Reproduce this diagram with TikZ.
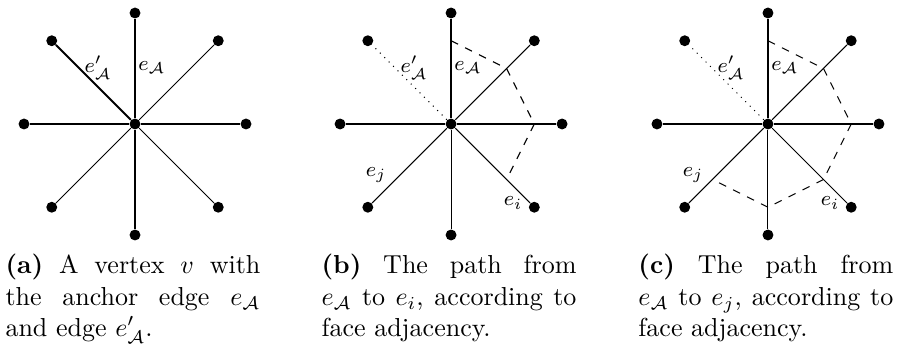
\documentclass[tikz,border=0pt]{standalone}
\usepackage{amsmath,amssymb}
\usepackage{tikz}

\begin{document}
\begin{tikzpicture}[x=0.375cm,y=0.375cm,
  dot/.style={circle,fill,inner sep=0pt,minimum size=4.2pt},
  anc/.style={thick},
  face/.style={dashed},
  lbl/.style={font=\footnotesize,inner sep=0pt},
  subcap/.style={text width=98pt,align=justify,inner sep=0pt,anchor=base west}]
\useasboundingbox (-4.865,-7.928) rectangle (27.46,4.468);
% the vertex v and its eight edges, in each panel
\foreach \p/\s in {a/0,b/11.39,c/22.81}{
  \begin{scope}[shift={(\s,0)}]
  \node[dot] (\p-v)  at (0,0)   {};
  \node[dot] (\p-n)  at (0,4)   {};
  \node[dot] (\p-ne) at (3,3)   {};
  \node[dot] (\p-e)  at (4,0)   {};
  \node[dot] (\p-se) at (3,-3)  {};
  \node[dot] (\p-s)  at (0,-4)  {};
  \node[dot] (\p-sw) at (-3,-3) {};
  \node[dot] (\p-w)  at (-4,0)  {};
  \node[dot] (\p-nw) at (-3,3)  {};
  \foreach \d in {ne,e,se,s,sw,w} \draw (\p-v) -- (\p-\d);
  \draw[anc] (\p-v) -- (\p-n);
  \node[lbl] (\p-ea)  at (0.61,2.03)  {$e_{\mathcal{A}}$};
  \node[lbl] (\p-eap) at (-1.33,2.03) {$e'_{\mathcal{A}}$};
  \end{scope}
}
% (a) anchor edge and e'
\draw[anc] (a-v) -- (a-nw);
\node[subcap] (capa) at (-4.685,-5.405)
  {\textbf{(a)} A vertex $v$ with\linebreak the anchor edge $e_{\mathcal{A}}$\linebreak and edge $e'_{\mathcal{A}}$.};
% (b) path to e_i
\begin{scope}[shift={(11.39,0)}]
\draw[dotted] (b-v) -- (b-nw);
\node[lbl] (b-ej) at (-2.7,-1.84) {$e_j$};
\node[lbl] (b-ei) at (2.24,-2.85) {$e_i$};
\coordinate (b-p1) at (0,3);
\coordinate (b-p2) at (2,2);
\coordinate (b-p3) at (3,0);
\coordinate (b-p4) at (2,-2);
\draw[face] (b-p1) -- (b-p2);
\draw[face] (b-p2) -- (b-p3);
\draw[face] (b-p3) -- (b-p4);
\node[subcap] (capb) at (-4.685,-5.405)
  {\textbf{(b)} The path from\linebreak $e_{\mathcal{A}}$ to $e_i$, according to\linebreak face adjacency.};
\end{scope}
% (c) path to e_j
\begin{scope}[shift={(22.81,0)}]
\draw[dotted] (c-v) -- (c-nw);
\node[lbl] (c-ej) at (-2.7,-1.84) {$e_j$};
\node[lbl] (c-ei) at (2.24,-2.85) {$e_i$};
\coordinate (c-p1) at (0,3);
\coordinate (c-p2) at (2,2);
\coordinate (c-p3) at (3,0);
\coordinate (c-p4) at (2,-2);
\coordinate (c-p5) at (0,-3);
\coordinate (c-p6) at (-2,-2);
\draw[face] (c-p1) -- (c-p2);
\draw[face] (c-p2) -- (c-p3);
\draw[face] (c-p3) -- (c-p4);
\draw[face] (c-p4) -- (c-p5);
\draw[face] (c-p5) -- (c-p6);
\node[subcap] (capc) at (-4.685,-5.405)
  {\textbf{(c)} The path from\linebreak $e_{\mathcal{A}}$ to $e_j$, according to\linebreak face adjacency.};
\end{scope}
\end{tikzpicture}
\end{document}
